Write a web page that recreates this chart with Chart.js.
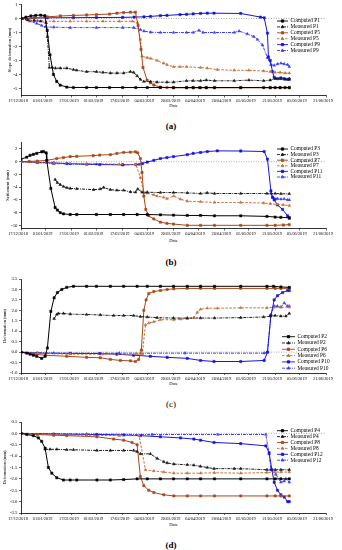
<!DOCTYPE html>
<html>
<head>
<meta charset="utf-8">
<script src="https://cdn.jsdelivr.net/npm/chart.js@4.4.1/dist/chart.umd.min.js"></script>
<style>
  body { margin: 0; background: #fff; }
  #wrap { position: relative; width: 342px; height: 550px; overflow: hidden; }
  canvas { position: absolute; left: 0; }
  .cap { position: absolute; left: 0; width: 342px; text-align: center;
         font: bold 9px "Liberation Serif"; line-height: 9px; color: #000; }
</style>
</head>
<body>
<div id="wrap">
  <canvas id="chartA" width="342" height="112" style="top:0px"></canvas>
  <div class="cap" style="top:122px">(a)</div>
  <canvas id="chartB" width="342" height="108" style="top:138px"></canvas>
  <div class="cap" style="top:258px">(b)</div>
  <canvas id="chartC" width="342" height="118" style="top:272px"></canvas>
  <div class="cap" style="top:400px;font-weight:normal">(c)</div>
  <canvas id="chartD" width="342" height="116" style="top:415px"></canvas>
  <div class="cap" style="top:541px">(d)</div>
</div>
<script>
Chart.defaults.font.family = '"Liberation Serif", "Times New Roman", serif';
Chart.defaults.color = '#000';

// x axis: days since 17/12/2018
const tickDays = [0, 15, 31, 46, 62, 77, 93, 108, 124, 139, 155, 170, 186];
const dateLabels = ['17/12/2018', '01/01/2019', '17/01/2019', '01/02/2019', '17/02/2019', '04/03/2019',
  '20/03/2019', '04/04/2019', '20/04/2019', '05/05/2019', '21/05/2019', '05/06/2019', '21/06/2019'];

// (a) slope deformation
const aYTicks = [1, 0, -1, -2, -3, -4, -5];
const aNames = ['Computed P1', 'Measured P1', 'Computed P5', 'Measured P5', 'Computed P9', 'Measured P9'];
const aComputedP1 = [[0,0],[3,0.1],[6,0.18],[9,0.22],[12,0.24],[14.5,0.2],[16,-0.85],[17.7,-2.6],[19.8,-4.0],[21.8,-4.5],[23.9,-4.76],[27.9,-4.9],[32,-4.93],[40,-4.93],[46,-4.93],[54,-4.93],[62,-4.93],[70,-4.93],[77,-4.93],[85,-4.93],[93,-4.93],[101,-4.93],[105,-4.93],[109,-4.93],[113,-4.93],[118,-4.93],[134,-4.93],[148,-4.93],[152,-4.93],[155,-4.93],[158,-4.93],[161,-4.93],[163.6,-4.93]];
const aMeasuredP1 = [[0,0],[4,-0.1],[8,-0.15],[12,-0.2],[15.3,-0.3],[16.1,-1.3],[17.3,-3.5],[19,-3.5],[21,-3.55],[24,-3.55],[28,-3.55],[32,-3.65],[34,-3.7],[40,-3.8],[46,-3.8],[50,-3.85],[54.5,-3.9],[58.5,-3.9],[62.6,-3.9],[66.7,-3.8],[68.7,-3.85],[70.8,-4.1],[72.8,-4.35],[74.9,-4.5],[79,-4.5],[83,-4.55],[89,-4.55],[93,-4.55],[101,-4.45],[105,-4.45],[109.5,-4.45],[113,-4.4],[118,-4.45],[130,-4.45],[139,-4.4],[148,-4.45],[152,-4.4],[155,-4.3],[158,-4.3],[161,-4.35],[163.6,-4.3]];
const aComputedP5 = [[0,0],[8,0.05],[16,0.12],[24,0.18],[32,0.22],[40,0.25],[46,0.28],[54,0.32],[58.5,0.38],[62.6,0.42],[66.7,0.45],[69.8,0.45],[71.4,-0.5],[73.2,-2.2],[74.4,-3.5],[76.9,-4.4],[78.9,-4.6],[81,-4.75],[85,-4.9],[89,-4.93],[93,-4.95],[101,-4.95],[105,-4.95],[109.5,-4.95],[113,-4.95],[118,-4.95],[134,-4.95],[152,-4.95],[158,-4.95],[163.6,-4.95]];
const aMeasuredP5 = [[0,0],[4,-0.1],[10,-0.15],[20,-0.2],[30,-0.2],[40,-0.2],[50,-0.2],[60,-0.2],[68,-0.2],[71,-0.3],[72.8,-1.5],[73.8,-2.7],[76.9,-2.8],[79,-2.85],[83,-3.0],[87,-3.2],[89,-3.3],[93,-3.45],[97,-3.45],[101,-3.45],[109.5,-3.5],[113.6,-3.55],[119.7,-3.65],[130,-3.7],[139,-3.7],[148,-3.75],[152,-3.8],[155,-3.85],[158,-3.85],[161,-3.9],[163.6,-3.9]];
const aComputedP9 = [[0,0],[8,0.03],[16,0.05],[32,0.06],[46,0.07],[62,0.08],[69,0.1],[75,0.12],[79,0.15],[85,0.2],[89,0.22],[97,0.28],[101,0.3],[105,0.33],[109.5,0.36],[113.6,0.38],[117.7,0.38],[134,0.36],[146,0.1],[148.3,0.05],[150.3,-1.05],[150.9,-2.75],[152,-3.0],[153.4,-3.8],[154.4,-4.2],[156.4,-4.3],[158.5,-4.25],[160.5,-4.3],[162.6,-4.35],[163.6,-4.35]];
const aMeasuredP9 = [[0,0],[5.5,-0.2],[9.6,-0.35],[12.6,-0.5],[15,-0.6],[20,-0.62],[30,-0.65],[46,-0.65],[62,-0.65],[68.7,-0.65],[72.8,-0.8],[75,-0.9],[79,-0.98],[85,-1.0],[93,-1.0],[101,-1.0],[105,-1.0],[108.5,-0.85],[111,-1.0],[118,-1.0],[130,-1.0],[133,-0.9],[138,-1.1],[142,-1.3],[144.2,-1.5],[147.3,-1.9],[150.3,-2.8],[152.4,-3.3],[154.4,-3.35],[156.4,-3.25],[158.5,-3.2],[160.5,-3.25],[162.6,-3.3],[163.6,-3.45]];

// (b) settlement
const bYTicks = [2, 0, -2, -4, -6, -8, -10];
const bNames = ['Computed P3', 'Measured P3', 'Computed P7', 'Measured P7', 'Computed P11', 'Measured P11'];
const bComputedP3 = [[0,0.4],[3.5,0.7],[5.5,1.0],[7.5,1.15],[9.6,1.3],[12.6,1.55],[13.7,1.6],[15.3,1.4],[15.7,0.2],[18.2,-4.2],[20.8,-7.2],[22.2,-7.6],[23.9,-8.0],[25.9,-8.2],[30,-8.3],[34,-8.3],[46,-8.3],[54.5,-8.3],[62.6,-8.3],[70.8,-8.3],[77,-8.3],[85,-8.35],[93,-8.4],[101.4,-8.45],[109.5,-8.45],[118,-8.5],[134,-8.5],[150,-8.6],[155,-8.7],[158.5,-8.75],[163.6,-8.8]];
const bMeasuredP3 = [[20.8,-2.8],[22.2,-3.3],[23.9,-3.6],[25.9,-3.9],[28,-4.1],[30,-4.2],[34,-4.25],[44.3,-4.4],[48.3,-4.3],[50.4,-4.05],[54.5,-4.4],[58.5,-4.5],[62.6,-4.5],[66.7,-4.75],[69.8,-4.8],[71.2,-4.3],[73.8,-4.8],[77,-4.8],[85,-4.85],[93,-4.85],[101.4,-4.9],[109.5,-5.0],[113.6,-4.9],[118,-5.0],[134,-5.0],[150,-5.0],[155,-5.0],[158.5,-5.05],[163.6,-5.05]];
const bComputedP7 = [[0,0],[5,0.05],[10,0.1],[15.7,0.2],[21.8,0.5],[25.9,0.65],[30,0.8],[34,0.85],[44,0.95],[48,1.05],[54.5,1.1],[58.5,1.3],[62.6,1.45],[66.7,1.5],[69.8,1.55],[71.2,1.4],[72.8,0.5],[73.8,-1.7],[74.9,-5.4],[76.1,-7.5],[77.9,-8.5],[81,-9.0],[85,-9.5],[89,-9.7],[93,-9.8],[101.4,-10.0],[109.5,-10.0],[118,-10.0],[134,-10.0],[150,-10.0],[155,-10.0],[160,-9.95],[163.6,-9.9]];
const bMeasuredP7 = [[0,0],[10,-0.1],[20,-0.2],[40,-0.3],[60,-0.4],[70,-0.45],[72.8,-2.5],[74.9,-4.9],[77,-4.95],[81,-5.2],[83,-5.4],[87,-5.6],[89,-5.8],[93.2,-5.4],[97.3,-5.9],[101.4,-6.2],[109.5,-6.3],[118,-6.4],[134,-6.4],[148,-6.5],[152,-6.6],[156,-6.7],[160,-6.8],[163.6,-6.9]];
const bComputedP11 = [[0,0],[10,-0.1],[20,-0.2],[28,-0.3],[40,-0.4],[48,-0.45],[62,-0.5],[70,-0.45],[74,-0.3],[77,-0.05],[81,0.2],[85,0.5],[89,0.65],[93,0.8],[101.4,1.1],[105,1.3],[109.5,1.45],[113.6,1.6],[119.7,1.7],[134,1.68],[148.3,1.6],[150.3,0.4],[152.4,-4.6],[153.4,-5.6],[154.4,-6.0],[156.4,-6.8],[159.5,-7.5],[162.6,-8.5],[163.6,-8.9]];
const bMeasuredP11 = [[0,0],[10,-0.15],[20,-0.3],[30,-0.35],[46,-0.4],[62,-0.45],[72,-0.45],[76,null],[152.4,-5.0],[153.4,-5.6],[154.4,-5.8],[155.4,-5.9],[156.4,-5.8],[158.5,-5.9],[160.5,-5.85],[162.6,-6.0],[163.6,-6.0]];

// (c) deformation
const cYTicks = [3.5, 3, 2.5, 2, 1.5, 1, 0.5, 0, -0.5, -1];
const cNames = ['Computed P2', 'Measured P2', 'Computed P6', 'Measured P6', 'Computed P10', 'Measured P10'];
const cComputedP2 = [[0,0],[3.5,-0.05],[5.5,-0.1],[7.5,-0.15],[9.6,-0.2],[12.6,-0.3],[14.7,-0.2],[16.1,0.2],[18.2,1.95],[20.2,2.6],[22.2,2.85],[24.9,3.0],[27.9,3.1],[32,3.15],[40,3.15],[46,3.15],[54.5,3.15],[62.6,3.15],[70.8,3.15],[77,3.15],[85,3.15],[93,3.15],[101.4,3.15],[109.5,3.15],[118,3.15],[134,3.15],[150,3.15],[154,3.15],[158.5,3.12],[163.6,3.1]];
const cMeasuredP2 = [[20.2,1.6],[21.8,1.8],[22.8,1.85],[25.9,1.85],[30,1.82],[40,1.8],[48.3,1.78],[56.5,1.75],[62.6,1.75],[68.7,1.75],[72.8,1.7],[77,1.68],[83,1.65],[93,1.63],[101.4,1.63],[109.5,1.63],[118,1.63],[134,1.65],[148,1.68],[152,1.72],[155,1.75],[158.5,1.72],[161.5,1.72],[163.6,1.85]];
const cComputedP6 = [[0,0],[7.5,-0.1],[15,-0.15],[27.9,-0.2],[40,-0.25],[48.3,-0.27],[54.5,-0.35],[60.6,-0.4],[66.7,-0.42],[69.8,-0.45],[71.8,-0.35],[73.4,0.1],[74.9,2.0],[76.3,2.5],[77.9,2.8],[81,2.9],[85,2.95],[89.1,3.0],[93.2,3.03],[101.4,3.05],[109.5,3.05],[118,3.05],[134,3.05],[150,3.05],[155,3.05],[158.5,3.05],[163.6,3.05]];
const cMeasuredP6 = [[0,0],[10,-0.05],[30,-0.1],[50,-0.1],[70,-0.1],[74,-0.1],[75.9,1.3],[78,1.4],[81,1.45],[85,1.55],[93.2,1.55],[97.3,1.58],[101.4,1.6],[105.4,1.65],[107.5,1.9],[109.5,2.05],[113.6,2.1],[119.7,2.1],[134,2.12],[150,2.12],[155,2.15],[158.5,2.15],[163.6,2.15]];
const cComputedP10 = [[0,0],[10,-0.05],[30,-0.06],[48,-0.07],[58.5,-0.1],[68.7,-0.15],[78.9,-0.2],[89.1,-0.25],[101.4,-0.3],[109.5,-0.4],[117.7,-0.45],[134,-0.45],[148.3,-0.4],[150.3,0.0],[152.4,1.75],[154.4,2.5],[156.4,2.7],[159.5,2.85],[162.6,2.95],[163.6,2.95]];
const cMeasuredP10 = [[0,0],[20,-0.05],[60,-0.05],[100,-0.05],[148.3,-0.05],[150.3,0.0],[152.4,1.8],[154.4,2.2],[156.4,2.2],[158.5,2.15],[160.5,2.35],[162.6,2.2],[163.6,2.2]];

// (d) deformation
const dYTicks = [0.5, 0, -0.5, -1, -1.5, -2, -2.5, -3, -3.5];
const dNames = ['Computed P4', 'Measured P4', 'Computed P8', 'Measured P8', 'Computed P12', 'Measured P12'];
const dComputedP4 = [[0,0],[3.5,-0.05],[7.5,-0.1],[10.6,-0.2],[12.6,-0.35],[14.7,-0.65],[16.7,-1.5],[18.8,-1.75],[21.8,-1.95],[25.9,-2.05],[30,-2.05],[34,-2.05],[46.3,-2.05],[54.5,-2.05],[62.6,-2.03],[70.8,-2.0],[77,-2.0],[85,-2.0],[93,-2.0],[101.4,-2.0],[109.5,-2.0],[118,-2.0],[134,-2.0],[150,-2.0],[155,-2.0],[158.5,-2.0],[163.6,-2.0]];
const dMeasuredP4 = [[14.7,-0.7],[17.7,-0.7],[21.8,-0.7],[27.9,-0.72],[32,-0.72],[46.3,-0.75],[54.5,-0.75],[62.6,-0.75],[68.7,-0.75],[70.8,-0.8],[72.8,-0.9],[78.9,-0.9],[83,-1.1],[87.1,-1.25],[89.1,-1.3],[93.2,-1.35],[101.4,-1.38],[105.4,-1.4],[109.5,-1.45],[113.6,-1.5],[117.7,-1.55],[130,-1.55],[134,-1.55],[150,-1.6],[155,-1.6],[158.5,-1.6],[163.6,-1.6]];
const dComputedP8 = [[0,0],[10,-0.05],[20,-0.08],[27.9,-0.1],[46.3,-0.15],[56.5,-0.25],[62.6,-0.3],[67.7,-0.4],[70.8,-0.5],[72.8,-1.9],[74.9,-2.3],[77.9,-2.5],[81,-2.6],[87.1,-2.7],[93.2,-2.75],[101.4,-2.75],[109.5,-2.75],[118,-2.75],[134,-2.75],[150,-2.75],[155,-2.75],[158.5,-2.75],[163.6,-2.75]];
const dMeasuredP8 = [[0,0],[20,-0.05],[40,-0.08],[60,-0.1],[72,-0.1],[75.9,-1.6],[81,-1.65],[87.1,-1.7],[93.2,-1.75],[101.4,-1.75],[109.5,-1.75],[118,-1.73],[134,-1.75],[150,-1.72],[155,-1.7],[158.5,-1.7],[163.6,-1.7]];
const dComputedP12 = [[0,0],[20,-0.03],[46.3,-0.05],[62.6,-0.07],[72.8,-0.1],[85,-0.15],[97.3,-0.2],[105.4,-0.25],[109.5,-0.3],[117.7,-0.4],[134,-0.45],[149.3,-0.55],[151.3,-0.85],[153,-1.6],[154.4,-2.15],[156.4,-2.5],[158.5,-2.7],[160.5,-2.8],[162.6,-3.0],[163.6,-3.0]];
const dMeasuredP12 = [[0,0],[40,-0.03],[80,-0.05],[120,-0.05],[149.3,-0.05],[151.3,-0.9],[152.4,-1.6],[155.4,-1.8],[158.5,-2.15],[160.5,-2.1],[161.5,-2.0],[163.6,-2.15]];

// same look in every panel: computed/measured x black/brown/blue
const styles = [
  { color: '#000000', dash: [], point: 'rect' },
  { color: '#1a1a1a', dash: [3, 1, 1, 1], point: 'triangle' },
  { color: '#a8481a', dash: [], point: 'rect' },
  { color: '#c8703a', dash: [2.5, 1.5], point: 'triangle' },
  { color: '#1414e0', dash: [], point: 'rect' },
  { color: '#3c3cff', dash: [3, 1, 1, 1], point: 'triangle' }
];

// legend drawn inside the plot, line + marker + text
const innerLegend = {
  id: 'innerLegend',
  afterDraw(chart, args, opts) {
    const ctx = chart.ctx;
    ctx.save();
    ctx.font = opts.size + 'px "Liberation Serif"';
    ctx.textBaseline = 'middle';
    let y = opts.y;
    chart.data.datasets.forEach(ds => {
      if (ds.isRef) return;
      ctx.strokeStyle = ds.borderColor;
      ctx.fillStyle = ds.borderColor;
      ctx.lineWidth = 0.9;
      ctx.setLineDash(ds.borderDash);
      ctx.beginPath();
      ctx.moveTo(opts.x, y);
      ctx.lineTo(opts.x + opts.w, y);
      ctx.stroke();
      ctx.setLineDash([]);
      Chart.helpers.drawPoint(ctx, { pointStyle: ds.pointStyle, radius: 1.6, borderWidth: 0.5, rotation: 0 }, opts.x + opts.w / 2, y);
      ctx.fillStyle = '#000';
      ctx.fillText(ds.label, opts.x + opts.w + 2.5, y);
      y += opts.row;
    });
    ctx.restore();
  }
};

function makeChart(id, series, names, yTicks, digits, yTitle, box) {
  const datasets = series.map((pts, i) => ({
    label: names[i],
    data: pts.map(p => ({ x: p[0], y: p[1] })),
    borderColor: styles[i].color,
    backgroundColor: styles[i].color,
    borderWidth: 1,
    borderDash: styles[i].dash,
    pointStyle: styles[i].point,
    pointRadius: 1.6,
    pointBorderWidth: 0.5,
    pointBackgroundColor: styles[i].color,
    pointBorderColor: styles[i].color,
    tension: 0
  }));
  datasets.push({
    label: 'zero', isRef: true,
    data: [{ x: 0, y: 0 }, { x: 186, y: 0 }],
    borderColor: '#8a8a8a', borderWidth: 0.7, borderDash: [1, 1.5], pointRadius: 0
  });

  return new Chart(document.getElementById(id), {
    type: 'line',
    data: { datasets },
    options: {
      responsive: false,
      animation: false,
      events: [],
      layout: { padding: { top: box.top, right: 16, bottom: 0, left: 0 } },
      plugins: {
        legend: { display: false },
        tooltip: { enabled: false },
        innerLegend: box.legend
      },
      scales: {
        x: {
          type: 'linear', min: 0, max: 186,
          afterBuildTicks: axis => { axis.ticks = tickDays.map(v => ({ value: v })); },
          afterFit: axis => { axis.height = box.xh; },
          ticks: {
            autoSkip: false, maxRotation: 0, minRotation: 0, padding: 1, labelOffset: -3,
            font: { size: 4.3 },
            callback: (v, i) => dateLabels[i]
          },
          grid: { drawOnChartArea: false, tickLength: 2, color: '#000', lineWidth: 0.6 },
          border: { color: '#000', width: 0.8 },
          title: { display: true, text: 'Date', font: { size: 4.6 }, padding: { top: 0, bottom: box.dateBottom } }
        },
        y: {
          min: box.ymin,
          max: box.ymax,
          afterBuildTicks: axis => { axis.ticks = yTicks.map(v => ({ value: v })); },
          afterFit: axis => { axis.width = 21; },
          ticks: { padding: 1.5, font: { size: 4.8 }, callback: v => v.toFixed(digits) },
          grid: { drawOnChartArea: false, tickLength: 2, color: '#000', lineWidth: 0.6 },
          border: { color: '#000', width: 0.8 },
          title: { display: true, text: yTitle, font: { size: 4.5 }, padding: { top: box.titleX, bottom: 0 } }
        }
      }
    },
    plugins: [innerLegend]
  });
}

makeChart('chartA', [aComputedP1, aMeasuredP1, aComputedP5, aMeasuredP5, aComputedP9, aMeasuredP9],
  aNames, aYTicks, 0, 'Slope deformation (mm)',
  { top: 4.5, xh: 16.5, ymin: -5.5, ymax: 1, dateBottom: 3.4, titleX: 7,
    legend: { x: 277, y: 21, w: 11, row: 5.9, size: 5.4 } });

makeChart('chartB', [bComputedP3, bMeasuredP3, bComputedP7, bMeasuredP7, bComputedP11, bMeasuredP11],
  bNames, bYTicks, 0, 'Settlement (mm)',
  { top: 4.6, xh: 17.5, ymin: -10.5, ymax: 3, dateBottom: 2.7, titleX: 5.5,
    legend: { x: 277, y: 11, w: 11, row: 5.6, size: 5.4 } });

makeChart('chartC', [cComputedP2, cMeasuredP2, cComputedP6, cMeasuredP6, cComputedP10, cMeasuredP10],
  cNames, cYTicks, 1, 'Deformation (mm)',
  { top: 7, xh: 17, ymin: -1, ymax: 3.5, dateBottom: 3.4, titleX: 2.5,
    legend: { x: 282, y: 64.7, w: 13, row: 6.3, size: 5.4 } });

makeChart('chartD', [dComputedP4, dMeasuredP4, dComputedP8, dMeasuredP8, dComputedP12, dMeasuredP12],
  dNames, dYTicks, 1, 'Deformation (mm)',
  { top: 7, xh: 18, ymin: -3.5, ymax: 0.5, dateBottom: 3.4, titleX: 2.5,
    legend: { x: 277, y: 15.7, w: 11, row: 5.9, size: 5.4 } });
</script>
</body>
</html>
